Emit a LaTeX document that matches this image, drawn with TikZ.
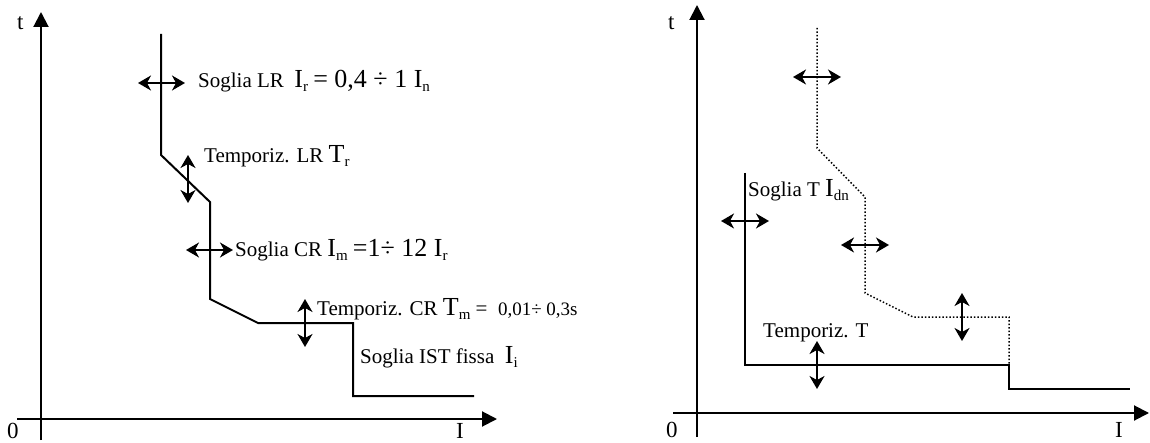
\documentclass[tikz,border=0pt]{standalone}
\usepackage{fontspec}
\setmainfont{Liberation Serif}
\usetikzlibrary{arrows.meta}

\newcommand{\grande}[2]{{\fontsize{26}{26}\selectfont #1}\raisebox{-4pt}{\fontsize{15}{15}\selectfont #2}}
\newcommand{\piccolo}{\fontsize{19}{19}\selectfont}

\begin{document}
\begin{tikzpicture}[x=1pt,y=-1pt,
  asse/.style={line width=2pt,-{Triangle[length=15pt,width=15pt]}},
  curva/.style={line width=2pt},
  traccia/.style={line width=1.5pt,dotted},
  regola/.style={line width=1.7pt,{Stealth[length=13pt,width=15pt,inset=4pt]}-{Stealth[length=13pt,width=15pt,inset=4pt]}},
  testo/.style={anchor=base west,inner sep=0pt,font=\fontsize{21}{21}\selectfont}]
\useasboundingbox (0,0) rectangle (1150,443);

% sganciatore elettronico LSI
\draw[asse] (17,419) -- (497,419);
\draw[asse] (41,440) -- (41,12);
\node[testo,font=\fontsize{23}{23}\selectfont] (tA) at (17,30) {t};
\node[testo,font=\fontsize{23}{23}\selectfont] (zA) at (7,438) {0};
\node[testo,font=\fontsize{23}{23}\selectfont] (iA) at (456,438) {I};

\draw[curva] (161,34) -- (161,155) -- (210,202) -- (210,299) -- (258,323)
  -- (353,323) -- (353,396) -- (474,396);

\draw[regola] (138,83) -- (185,83);
\draw[regola] (188,155) -- (188,203);
\draw[regola] (186,250) -- (233,250);
\draw[regola] (305,299) -- (305,347);

\node[testo] (sogliaLR) at (198,88) {Soglia LR\ \ \grande{I}{r} {\fontsize{26}{26}\selectfont = 0,4 ÷ 1 }\grande{I}{n}};
\node[testo] (tempLR) at (204,163) {Temporiz. LR \grande{T}{r}};
\node[testo] (sogliaCR) at (235,257) {Soglia CR \grande{I}{m} {\fontsize{26}{26}\selectfont =1÷ 12 }\grande{I}{r}};
\node[testo] (tempCR) at (317,316) {Temporiz. CR \grande{T}{m} =\ \ {\piccolo 0,01÷ 0,3s}};
\node[testo] (sogliaIST) at (360,363) {Soglia IST fissa\ \ \grande{I}{i}};

% differenziale
\draw[asse] (673,413) -- (1149,413);
\draw[asse] (697,437) -- (697,5);
\node[testo,font=\fontsize{23}{23}\selectfont] (tB) at (668,30) {t};
\node[testo,font=\fontsize{23}{23}\selectfont] (zB) at (666,437) {0};
\node[testo,font=\fontsize{23}{23}\selectfont] (iB) at (1115,437) {I};

\draw[traccia] (817,28) -- (817,148) -- (865,197) -- (865,293) -- (913,317)
  -- (1009,317) -- (1009,365);
\draw[curva] (745,173) -- (745,365) -- (1009,365) -- (1009,389) -- (1130,389);

\draw[regola] (793,77) -- (841,77);
\draw[regola] (721,221) -- (769,221);
\draw[regola] (841,245) -- (889,245);
\draw[regola] (962,293) -- (962,341);
\draw[regola] (817,341) -- (817,389);

\node[testo] (sogliaT) at (748,197) {Soglia T \grande{I}{dn}};
\node[testo] (tempT) at (763,337) {Temporiz. T};
\end{tikzpicture}
\end{document}
